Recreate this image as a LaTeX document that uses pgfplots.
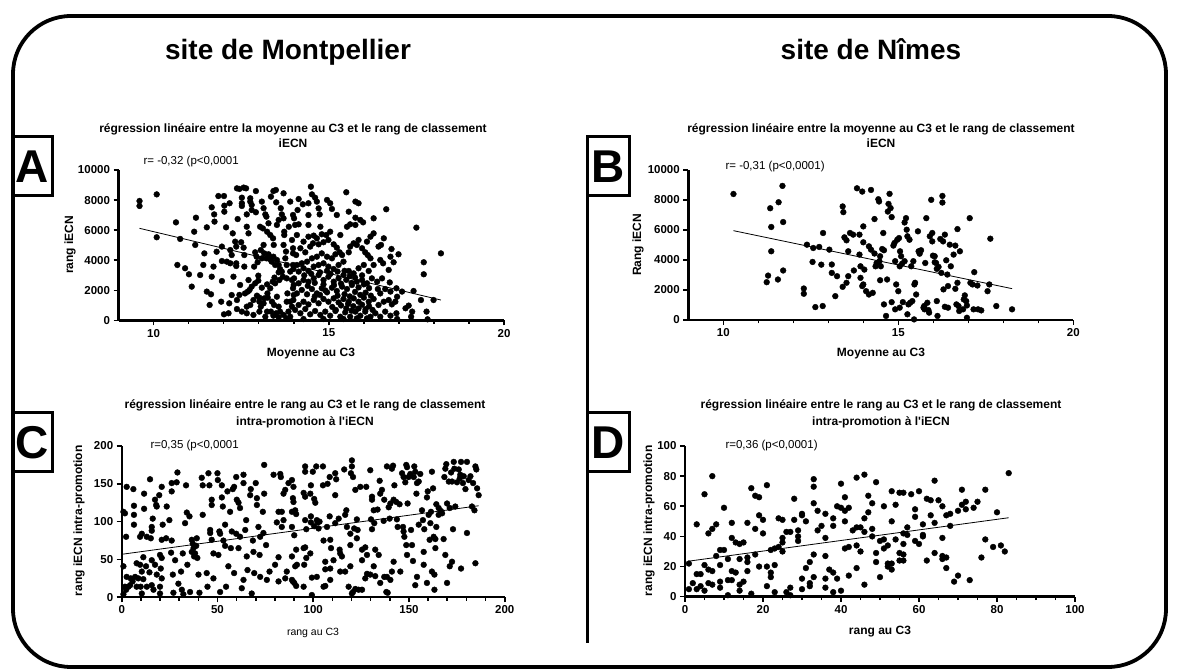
\documentclass[border=0pt]{standalone}
\usepackage{fontspec}
\setmainfont{Liberation Sans}
\usepackage{pgfplots}
\usepackage{pgfplotstable}
\pgfplotsset{compat=1.18}

\pgfplotsset{
  prism/.style={
    scale only axis,
    anchor=south west,
    axis x line*=bottom,
    axis y line*=left,
    axis line style={-, line width=2.4pt},
    tick align=outside,
    major tick length=5pt,
    minor tick length=3.5pt,
    tick style={black, line width=1.6pt},
    tick label style={font=\bfseries\fontsize{11.5}{13}\selectfont},
    /pgf/number format/assume math mode=true,
    /pgf/number format/1000 sep={},
    scaled ticks=false,
    clip=false,
  },
  dots/.style={only marks, mark=*, mark size=2.9pt, black},
  fitline/.style={black, line width=0.8pt, no marks},
}

\newcommand{\ttl}{\bfseries\fontsize{12}{14}\selectfont}
\newcommand{\lbl}{\bfseries\fontsize{12}{14}\selectfont}
\newcommand{\rtxt}{\fontsize{11.5}{13}\selectfont}

% Montpellier: moyenne au C3 / rang iECN
\pgfplotstableread{
x y
9.6 7940
9.6 7610
10.09 8380
10.09 5530
10.64 6520
10.68 3690
10.76 5420
11.01 3070
11.09 2250
11.16 5900
11.21 6830
11.19 5020
11.45 4460
11.52 6190
11.52 1920
11.6 1030
11.64 1740
11.66 7520
11.74 6570
11.73 7050
11.85 8270
11.95 4910
11.95 3950
11.95 2620
11.93 1250
12.01 8270
12.01 410
12.02 7630
12.02 7230
12.07 6190
12.09 3910
12.17 7790
12.19 3800
12.26 5790
12.38 8780
12.45 8740
12.57 8830
12.64 8780
12.52 8160
12.52 7790
12.52 7610
12.36 4910
12.36 3800
12.36 3620
12.40 6740
12.45 1700
12.50 5200
12.57 4840
12.59 4350
12.59 3580
12.61 1800
12.66 7050
12.69 1920
12.74 2030
12.76 8120
12.76 7900
12.8 7680
12.8 7340
12.87 3580
12.92 8600
12.92 7190
12.97 3870
12.99 2980
12.99 2650
13.02 1520
13.02 1250
13.09 2180
13.12 6120
13.14 5020
13.19 7050
13.22 6900
13.24 5900
13.22 4130
13.24 2400
13.26 1520
13.24 590
13.02 590
13.35 8230
13.42 8600
13.49 8670
13.5 7850
13.33 5680
13.41 5460
13.43 5020
13.47 3690
13.45 2850
13.4 2580
13.52 1580
13.57 920
13.61 590
13.71 8450
13.66 7050
13.71 6790
13.73 5900
13.73 5680
13.71 5020
13.78 4580
13.76 4130
13.8 3690
13.8 2800
13.82 1800
13.8 1250
13.71 370
13.79 140
13.9 250
13.95 5350
13.98 4460
13.98 3690
14.0 2360
14.0 1690
12.9 4530
12.94 4240
13.06 4680
13.09 4130
13.16 4460
13.28 4400
13.31 4090
13.37 3910
13.42 4240
13.52 4020
13.57 3690
13.61 3420
13.57 3200
13.66 3250
13.69 2910
13.59 2690
13.47 2470
13.33 2140
13.25 1800
13.16 1470
12.95 1650
12.85 1360
12.76 1030
12.66 920
13.06 920
13.14 1140
13.38 1250
13.44 1030
13.35 590
13.5 480
13.9 1250
13.95 920
13.85 590
13.9 3250
13.95 2690
12.9 2470
12.8 2250
12.71 2690
12.38 1360
12.47 2360
13.04 6230
13.28 6460
13.52 6350
13.57 6680
13.63 7460
13.9 7900
13.98 7010
13.86 6230
13.14 7460
13.09 7900
12.66 6230
12.71 5790
12.33 5240
12.23 4350
12.19 4680
12.28 2910
12.23 1690
12.16 1140
12.14 480
11.8 4570
11.71 3580
11.66 2910
11.42 3690
11.33 3020
10.9 3470
12.66 480
12.38 760
12.52 590
12.85 370
13.19 250
13.42 320
13.57 210
14.49 8890
14.52 8380
14.14 8070
14.26 7720
14.42 7790
14.61 8160
14.66 7900
14.71 7450
14.95 8010
15.04 7790
15.09 7410
14.74 7050
14.42 7010
14.11 7340
14.01 6790
14.04 6350
14.14 6390
14.42 6350
14.76 6230
15.23 7010
15.5 8520
15.57 7230
15.76 7900
15.85 7790
15.76 6830
15.9 6680
15.98 6520
16.28 6790
16.64 7390
15.52 6230
15.61 6390
15.76 6350
15.33 5680
15.04 5900
14.93 5680
14.8 5730
14.66 5460
14.57 5640
14.42 5570
14.28 5240
14.09 5680
13.98 4800
14.07 4350
14.19 4800
14.33 4530
14.47 4910
14.55 5130
14.71 5060
14.85 5200
14.99 5350
15.14 5060
15.23 4840
15.31 4530
15.38 4350
15.19 4400
15.09 4130
14.95 4240
14.8 4460
14.66 4240
14.52 4130
14.38 3910
14.23 3800
14.09 3690
13.99 3420
14.14 3250
14.28 3470
14.42 3290
14.57 3580
14.71 3690
14.85 3800
14.99 3580
15.14 3420
15.28 3690
15.42 3910
15.57 4530
15.61 4910
15.71 5130
15.8 5020
15.85 5350
15.95 4800
16.04 4530
16.11 4350
16.19 4130
16.09 5240
16.28 5790
16.42 4910
16.49 5020
16.57 5460
16.79 4750
16.47 4020
16.55 3800
16.71 3360
16.85 3870
16.28 3690
16.14 3290
16.0 3690
15.85 3470
15.71 3130
15.57 3290
15.42 3020
15.28 2800
15.14 2580
14.99 2910
14.85 2690
14.71 3020
14.57 2800
14.42 2580
14.28 2690
14.14 2470
14.01 2800
13.98 2140
14.09 1800
14.23 2030
14.38 1740
14.52 2090
14.66 1800
14.8 2140
14.95 1870
15.09 2180
15.23 1960
15.38 2250
15.52 2090
15.66 2360
15.8 2580
15.95 2690
16.09 2470
16.23 2800
16.38 2580
16.52 2800
16.4 2090
16.47 1800
16.61 2090
16.76 1920
16.93 2140
16.95 1580
16.9 1250
16.8 1070
16.71 1360
16.57 1250
16.42 1030
16.28 1430
16.14 1250
16.0 1520
15.85 1250
15.71 1470
15.57 1250
15.42 1430
15.28 1200
15.14 1470
14.99 1250
14.85 1430
14.71 1140
14.57 1360
14.42 1070
14.28 1250
14.14 1030
13.99 1360
14.04 700
14.19 480
14.33 760
14.47 410
14.61 630
14.76 370
14.9 590
15.04 320
15.19 630
15.33 250
15.47 540
15.61 250
15.76 590
15.9 320
16.04 590
16.19 250
16.33 480
16.47 250
16.61 590
16.76 320
16.93 480
16.95 100
14.28 100
14.85 100
15.42 100
15.8 140
16.09 140
17.19 810
17.28 990
17.38 590
17.35 250
17.42 1960
17.5 6170
17.63 1360
17.71 3870
17.71 3070
17.79 590
17.82 80
17.99 1360
18.2 4460
16.99 4400
17.09 1920
16.74 2530
16.19 5570
16.76 4240
15.1 900
15.2 700
15.35 1000
15.5 800
15.55 1100
15.65 650
15.7 950
15.85 800
15.95 1050
16.05 750
16.15 950
16.25 700
15.25 1650
15.45 1750
15.6 1600
15.75 1900
15.9 1700
16.05 1850
16.2 1650
15.15 2350
15.35 2450
15.5 2700
15.65 2500
15.85 2200
16.0 2400
16.15 2150
15.05 3100
15.25 3250
15.45 3300
15.6 2950
15.75 2850
15.95 3000
14.6 1600
14.75 1700
14.9 2000
14.4 2300
14.6 2500
14.85 2400
14.3 3000
14.5 3100
14.75 3200
14.95 3300
}\dataA

% Nimes: moyenne au C3 / rang iECN
\pgfplotstableread{
x y
10.29 8400
11.34 7450
11.37 6200
11.37 4580
11.24 2520
11.28 2960
11.58 7850
11.69 8940
11.71 6530
11.71 3300
11.56 2700
12.3 2100
12.3 1750
12.39 5020
12.55 3870
12.57 4800
12.63 860
12.74 4870
12.8 3690
12.84 930
12.85 5800
13.03 4690
13.1 3700
13.1 3140
13.2 1590
13.25 2920
13.41 7570
13.43 7190
13.41 2210
13.52 2480
13.46 5510
13.52 5310
13.57 4580
13.57 2920
13.62 5800
13.71 5690
13.73 3300
13.82 8780
13.89 5690
13.89 4360
13.92 2810
13.97 8560
14.0 6240
14.0 5180
14.03 3360
13.92 3580
14.0 2370
13.97 2260
14.08 1920
14.16 4910
14.22 4690
14.16 1700
14.27 1810
14.32 6730
14.22 8670
14.43 8050
14.45 7900
14.46 3920
14.48 4250
14.54 4730
14.59 4650
14.48 2650
14.32 4430
14.35 3580
14.38 3800
14.5 3580
14.57 5800
14.7 7230
14.78 7460
14.72 7740
14.75 8410
14.59 1040
14.65 270
14.68 2700
14.81 6860
14.81 1190
14.86 4960
14.89 5130
14.97 5350
15.02 5460
14.91 3920
15.0 1920
14.94 2370
14.91 710
15.04 820
15.05 4580
15.08 4250
15.04 3580
15.11 3760
15.13 1190
15.18 3920
15.18 6500
15.22 6790
15.24 6020
15.26 5580
15.26 380
15.29 1040
15.32 5350
15.37 3580
15.43 3920
15.46 2370
15.48 2480
15.51 1700
15.34 1150
15.4 1260
15.56 5910
15.58 4580
15.61 4420
15.65 4650
15.45 40
15.72 820
15.74 930
15.75 710
15.77 3800
15.8 6790
15.83 1150
15.86 660
15.88 490
15.9 5580
15.94 8010
15.97 5800
15.97 5240
15.99 4290
16.04 4250
16.04 3850
16.08 3800
16.1 3410
16.1 1260
16.12 270
16.15 3540
16.2 5400
16.23 3140
16.29 2040
16.33 5690
16.37 3980
16.33 880
16.26 8270
16.26 7830
16.28 5240
16.4 3030
16.42 2260
16.42 820
16.47 5020
16.5 3580
16.58 4360
16.63 4960
16.63 2080
16.66 1040
16.69 6060
16.69 2480
16.72 930
16.74 600
16.76 4580
16.85 710
16.87 1370
16.9 1640
16.94 1260
16.96 970
16.96 150
17.04 6790
17.06 2480
17.12 2370
17.15 710
17.17 3190
17.26 2300
17.28 710
17.37 640
17.55 1920
17.6 2370
17.63 5420
17.8 930
18.25 710
}\dataB

% Montpellier: rang au C3 / rang intra-promotion
\pgfplotstableread{
x y
0.9 113
1.7 111
0.9 41
1.7 14
0.9 4
2.3 80
2.6 146
4.7 25
6.1 143
6.4 121
6.4 109
6.4 96
4.4 16
5.7 21
7.0 27
7.8 45
9.6 43
11.3 53
10.5 34
8.7 25
7.8 14
9.9 14
11.3 24
10.5 5
12.7 41
13.1 80
11.7 137
11.7 117
14.8 156
13.1 14
14.5 33
15.7 93
15.2 78
15.7 49
15.7 16
16.6 10
18.3 30
17.4 129
18.0 122
18.3 120
20.0 5
20.4 38
20.9 52
20.9 76
21.4 96
20.9 146
19.6 135
20.0 14
23.5 120
23.2 78
24.9 102
26.1 75
26.1 151
26.1 140
25.8 59
26.7 30
27.0 6
27.9 49
28.7 152
29.1 165
29.6 18
31.0 34
31.9 58
31.4 10
32.2 4
33.6 148
33.1 98
34.0 112
34.3 43
35.4 107
35.7 7
36.6 76
37.1 71
37.5 65
37.8 54
36.6 60
38.3 58
39.2 78
38.9 68
39.5 52
40.1 30
40.6 6
41.8 158
42.3 109
42.3 148
44.4 32
44.8 14
45.3 164
45.8 148
46.2 89
46.2 85
47.0 129
47.0 122
47.0 76
47.9 58
47.9 25
50.0 164
50.2 155
50.5 56
51.0 87
51.4 84
51.4 7
52.3 148
52.3 132
52.8 120
53.1 75
54.0 96
54.0 68
54.5 14
55.2 140
55.7 41
56.6 113
57.0 65
57.5 87
58.0 143
58.7 146
58.7 32
59.8 159
60.1 129
61.0 125
61.8 118
59.8 84
61.0 65
61.8 80
62.7 12
63.6 23
63.6 151
63.6 162
64.5 89
65.0 102
65.3 54
65.7 36
67.1 135
67.4 143
67.9 5
68.5 75
68.8 60
69.2 32
70.0 151
70.6 131
70.6 122
71.4 93
72.0 56
72.3 80
72.3 27
73.7 113
74.0 85
74.4 137
74.4 175
75.4 69
75.8 23
77.2 34
79.3 162
80.1 43
81.0 99
81.9 113
81.9 53
81.9 21
82.8 163
83.1 159
83.6 113
83.6 93
84.5 102
85.4 25
86.2 34
87.1 151
88.9 54
88.9 113
89.4 21
89.7 126
85.4 142
84.5 137
2.6 27
3.5 14
2.3 10
9.6 80
10.5 84
15.7 88
16.2 104
20.0 56
17.4 43
20.9 25
88.9 155
89.7 146
89.4 131
90.6 115
91.1 110
88.9 93
90.1 82
91.1 63
90.6 41
91.5 43
88.9 23
90.1 19
91.1 15
95.0 138
95.8 133
95.8 173
95.8 166
95.8 102
96.4 90
95.0 65
95.8 66
96.4 52
98.8 148
98.5 137
98.8 107
98.8 99
99.3 26
99.3 3
99.8 166
100.5 130
100.5 94
101.1 125
101.6 173
101.9 102
102.3 99
102.8 91
103.3 100
105.1 173
105.1 148
105.4 75
105.4 14
106.3 15
106.3 37
106.3 47
107.2 93
107.5 150
108.6 159
108.6 107
108.9 76
109.3 65
108.9 38
111.5 164
112.0 156
111.5 135
111.5 98
113.3 104
113.8 63
114.1 58
114.1 34
115.0 54
116.2 169
116.7 34
117.3 115
116.7 109
117.6 93
118.5 14
119.4 84
119.4 69
119.7 164
120.2 181
120.2 173
120.8 159
120.2 5
120.8 7
122.0 11
122.0 142
121.4 91
122.8 103
122.8 78
123.2 89
123.7 10
125.5 10
124.6 146
125.5 63
127.2 66
127.7 146
128.1 56
128.1 31
129.8 168
130.2 103
130.7 133
130.7 129
130.7 90
131.6 115
131.9 98
132.4 63
132.4 28
133.6 116
134.2 56
134.7 154
135.0 137
135.9 142
136.8 101
137.1 129
137.1 27
138.5 27
138.2 7
138.9 6
138.5 173
139.4 119
139.9 104
140.3 124
141.1 170
141.7 174
142.0 47
142.0 129
142.4 148
143.4 126
143.7 103
144.1 93
145.1 123
146.4 164
146.9 93
147.2 159
147.2 87
147.6 80
148.1 152
148.6 175
148.6 69
149.0 172
149.3 124
149.8 159
150.7 163
151.1 89
151.6 69
152.1 48
152.5 159
152.8 173
153.3 166
153.9 137
154.2 151
155.1 153
155.1 96
155.9 163
156.8 115
157.3 102
157.7 60
157.7 43
158.0 90
159.4 132
159.8 140
160.3 109
160.8 76
161.2 98
161.5 113
162.0 166
162.6 144
162.9 80
163.3 30
163.3 10
163.8 77
163.8 65
164.3 123
164.3 93
165.5 109
165.5 118
166.7 114
167.3 111
168.1 77
168.5 159
169.0 56
169.0 170
169.5 176
169.9 124
170.8 153
171.3 118
171.3 41
172.0 165
172.5 153
173.0 90
173.4 179
173.7 170
174.2 120
175.1 152
176.0 169
176.5 157
176.8 162
177.2 179
177.2 38
178.2 151
178.6 160
179.5 143
180.3 179
180.3 85
181.2 155
182.1 160
182.9 120
183.5 151
184.2 115
184.7 173
185.2 169
184.7 45
185.6 144
186.4 135
95.3 43
125.5 49
131.6 41
140.3 23
149.0 56
154.2 27
169.9 19
172.5 47
162.0 34
159.4 19
153.3 16
145.5 34
141.1 34
135.0 19
129.8 30
127.2 25
119.4 41
110.6 49
108.9 23
101.9 27
95.0 14
98.5 58
}\dataC

% Nimes: rang au C3 / rang intra-promotion
\pgfplotstableread{
x y
1 5
1 22
2 9
3 48
3 15
3 5
4 15
4 7
5 68
5 21
5 4
6 42
6 18
6 9
7 80
7 45
7 17
7 8
8 48
8 27
9 31
9 21
9 10
9 6
10 59
10 31
11 25
11 11
11 1
12 49
12 39
12 17
12 11
13 36
13 16
14 35
14 25
14 8
14 4
15 36
15 10
16 49
16 26
16 23
16 17
17 72
17 2
18 67
18 45
18 28
19 66
19 54
19 20
20 51
20 42
21 74
21 20
21 7
22 31
22 16
22 13
23 32
23 21
23 3
24 33
24 52
25 51
25 39
25 36
25 30
26 43
26 3
27 43
27 6
27 1
28 65
28 51
29 44
29 40
29 37
30 55
30 54
30 12
30 5
31 50
31 19
32 23
32 9
32 7
33 78
33 73
33 62
33 28
33 13
34 57
34 44
35 47
36 55
36 39
36 27
36 12
36 6
37 18
38 52
38 47
38 16
38 3
39 60
39 12
40 75
40 59
40 4
41 66
41 57
41 50
41 32
42 59
42 33
42 14
43 44
44 79
44 46
44 34
44 19
45 46
45 30
46 81
46 52
46 43
46 8
47 67
47 56
48 62
48 45
48 40
49 76
49 29
49 23
50 37
50 13
51 60
51 38
51 32
52 34
52 22
52 20
53 70
53 50
53 22
53 18
54 61
54 38
55 69
55 29
55 24
56 69
56 42
56 35
56 28
56 24
57 41
57 46
58 68
59 58
59 53
59 37
60 70
60 35
61 48
61 41
61 40
62 24
62 65
63 64
63 54
64 77
64 49
64 29
65 64
66 60
66 39
66 27
66 25
67 54
67 26
67 19
68 55
68 47
69 10
70 57
70 14
71 71
71 61
72 58
72 63
73 11
74 59
75 63
76 26
77 71
77 38
80 56
79 33
81 34
82 30
83 82
}\dataD

\begin{document}
\begin{tikzpicture}
\useasboundingbox (0pt,0pt) rectangle (1179pt,669pt);

\begin{scope}[x=1pt,y=1pt]
% cadre arrondi
\draw[line width=3.8pt, rounded corners=58pt] (13,653) rectangle (1166,2);

% titres des sites
\node[anchor=base, font=\bfseries\fontsize{28}{32}\selectfont] at (288,609) {site de Montpellier};
\node[anchor=base, font=\bfseries\fontsize{28}{32}\selectfont] at (871,609) {site de Nîmes};

% cases A B C D et separateur
\draw[line width=3pt] (12,532) rectangle (52,473);
\node[font=\bfseries\fontsize{46}{46}\selectfont] at (32,502.5) {A};
\draw[line width=3pt] (587,532) rectangle (629,473);
\node[font=\bfseries\fontsize{46}{46}\selectfont] at (608,502.5) {B};
\draw[line width=3pt] (12,256) rectangle (52,197);
\node[font=\bfseries\fontsize{46}{46}\selectfont] at (32,226.5) {C};
\draw[line width=3pt] (587,256) rectangle (629,197);
\node[font=\bfseries\fontsize{46}{46}\selectfont] at (608,226.5) {D};
\draw[line width=3pt] (587,473) -- (587,256);
\draw[line width=3pt] (587,197) -- (587,26);

% textes A
\node[anchor=base, font=\ttl] at (293,536.5) {régression linéaire entre la moyenne au C3 et le rang de classement};
\node[anchor=base, font=\ttl] at (293,521.5) {iECN};
\node[anchor=base west, font=\rtxt] at (140,504) {r= -0,32 (p<0,0001};
\node[rotate=90, font=\lbl] at (70,424) {rang iECN};
\node[font=\lbl] at (311,315) {Moyenne au C3};

% textes B
\node[anchor=base, font=\ttl] at (881,536.5) {régression linéaire entre la moyenne au C3 et le rang de classement};
\node[anchor=base, font=\ttl] at (881,521.5) {iECN};
\node[anchor=base west, font=\rtxt] at (722,499) {r= -0,31 (p<0,0001)};
\node[rotate=90, font=\lbl] at (638,424) {Rang iECN};
\node[font=\lbl] at (881,315) {Moyenne au C3};

% textes C
\node[anchor=base, font=\ttl] at (305,260) {régression linéaire entre le rang au C3 et le rang de classement};
\node[anchor=base, font=\ttl] at (305,243) {intra-promotion à l\textquotesingle iECN};
\node[anchor=base west, font=\rtxt] at (147,220) {r=0,35 (p<0,0001};
\node[rotate=90, font=\lbl] at (79,148) {rang iECN intra-promotion};
\node[font=\fontsize{10.5}{12}\selectfont] at (313,36) {rang au C3};

% textes D
\node[anchor=base, font=\ttl] at (881,260) {régression linéaire entre le rang au C3 et le rang de classement};
\node[anchor=base, font=\ttl] at (881,243) {intra-promotion à l\textquotesingle iECN};
\node[anchor=base west, font=\rtxt] at (722,220) {r=0,36 (p<0,0001)};
\node[rotate=90, font=\lbl] at (649,148) {rang iECN intra-promotion};
\node[font=\lbl] at (880,37) {rang au C3};
\end{scope}

% ---- A ----
\begin{axis}[prism, at={(118.5pt,348.5pt)}, width=385.5pt, height=150.5pt,
  xmin=9, xmax=20, ymin=0, ymax=10000,
  xtick={10,15,20}, minor x tick num=4,
  ytick={0,2000,4000,6000,8000,10000}]
\addplot[dots] table {\dataA};
\addplot[fitline] coordinates {(9.6,6125) (18.2,1360)};
\end{axis}

% ---- B ----
\begin{axis}[prism, at={(688.3pt,349pt)}, width=385pt, height=150pt,
  xmin=9, xmax=20, ymin=0, ymax=10000,
  xtick={10,15,20}, minor x tick num=4,
  ytick={0,2000,4000,6000,8000,10000}]
\addplot[dots] table {\dataB};
\addplot[fitline] coordinates {(10.29,5955) (18.25,2090)};
\end{axis}

% ---- C ----
\begin{axis}[prism, at={(121.7pt,71.7pt)}, width=383pt, height=151.3pt,
  xmin=0, xmax=200, ymin=0, ymax=200,
  xtick={0,50,100,150,200}, minor x tick num=4,
  ytick={0,50,100,150,200}]
\addplot[dots] table {\dataC};
\addplot[fitline] coordinates {(0.5,57) (186.4,121)};
\end{axis}

% ---- D ----
\begin{axis}[prism, at={(685pt,72.3pt)}, width=390pt, height=150.7pt,
  xmin=0, xmax=100, ymin=0, ymax=100,
  xtick={0,20,40,60,80,100}, minor x tick num=3,
  ytick={0,20,40,60,80,100}]
\addplot[dots] table {\dataD};
\addplot[fitline] coordinates {(1,23.6) (83,52.4)};
\end{axis}

\end{tikzpicture}
\end{document}
